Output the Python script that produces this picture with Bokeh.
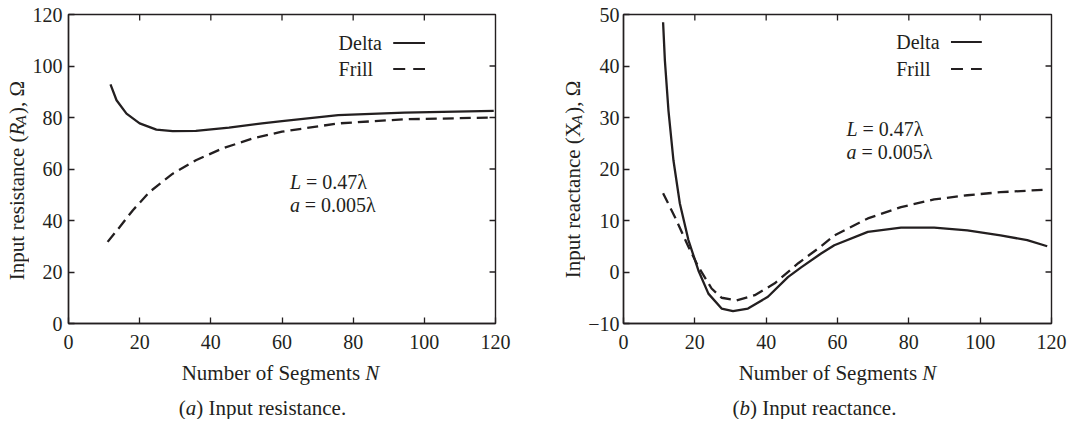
import math
from bokeh.plotting import figure
from bokeh.models import Range1d, Label, Arrow
from bokeh.layouts import row, column
from bokeh.embed import file_html
from bokeh.resources import INLINE

# ---------------- data ----------------
x_ticks = [0, 20, 40, 60, 80, 100, 120]
ra_ticks = [0, 20, 40, 60, 80, 100, 120]
xa_ticks = [-10, 0, 10, 20, 30, 40, 50]

ra_delta_n = [11.8, 13.5, 16.3, 20.0, 24.7, 29.3, 35.8, 45.1, 54.4, 60.0, 75.8, 94.4, 119.5]
ra_delta_v = [92.9, 86.7, 81.5, 77.7, 75.3, 74.7, 74.8, 76.1, 77.7, 78.6, 80.9, 81.9, 82.6]

ra_frill_n = [11.0, 14.4, 18.1, 22.8, 29.3, 35.8, 43.3, 51.6, 60.0, 75.8, 94.4, 119.5]
ra_frill_v = [31.7, 37.5, 44.0, 51.1, 58.2, 63.4, 68.0, 71.8, 74.5, 77.7, 79.3, 80.0]

xa_delta_n = [11.1, 11.6, 12.6, 14.0, 15.8, 18.2, 21.0, 23.8, 27.5, 30.7, 34.9, 40.5,
              46.1, 49.8, 55.4, 59.1, 68.5, 77.8, 87.1, 96.4, 105.7, 113.2, 118.8]
xa_delta_v = [48.5, 41.1, 31.4, 21.7, 13.3, 6.2, 0.3, -4.2, -7.1, -7.6, -7.1, -4.8,
              -1.0, 0.9, 3.6, 5.2, 7.8, 8.6, 8.6, 8.1, 7.1, 6.2, 5.0]

xa_frill_n = [11.1, 14.4, 18.2, 21.0, 24.7, 27.5, 31.7, 36.8, 42.4, 49.0, 55.4, 59.1,
              68.5, 77.8, 87.1, 96.4, 105.7, 118.8]
xa_frill_v = [15.3, 10.7, 4.9, 1.0, -3.2, -5.0, -5.5, -4.5, -2.2, 1.7, 5.0, 7.1,
              10.4, 12.6, 14.1, 14.9, 15.5, 16.0]

series_names = ["Delta", "Frill"]

# ---------------- styling ----------------
FONT = "Liberation Serif"
INK = "#231f20"
TICK_SIZE = 20
LABEL_SIZE = 21
YLAB_SIZE = 21
PANEL_H = 360                    # page y 0 .. 360
FRAME_TOP, FRAME_BOTTOM = 14, 323

# Times / Liberation Serif advance widths (per 1000 em)
W_REG = {' ': 250, '(': 333, ')': 333, ',': 250, '.': 250, 'I': 333, 'n': 500, 'p': 500,
         'u': 500, 't': 278, 'r': 333, 'e': 444, 's': 389, 'i': 278, 'a': 444, 'c': 444,
         'Ω': 768, 'X': 722, '=': 564, 'N': 722, 'm': 778, 'b': 500, 'o': 500, 'f': 333,
         'S': 556, 'g': 500, 'D': 722, 'l': 278, 'F': 556, 'λ': 549}
W_IT = {'R': 611, 'A': 611, 'a': 500, 'b': 500, 'L': 556, 'N': 667, 'X': 611}


def tw(s, size, italic=False):
    tab = W_IT if italic else W_REG
    return sum(tab.get(c, 500) for c in s) * size / 1000.0


def make_panel(width, border_left, border_right, xr, yr, yticks, ystandoff, overrides=None):
    p = figure(width=width, height=PANEL_H, output_backend="svg", toolbar_location=None,
               x_range=Range1d(*xr), y_range=Range1d(*yr),
               min_border_left=border_left, min_border_right=border_right,
               min_border_top=FRAME_TOP, min_border_bottom=PANEL_H - FRAME_BOTTOM)
    p.background_fill_color = "white"
    p.border_fill_color = "white"
    p.outline_line_color = INK
    p.outline_line_width = 1.4
    p.grid.visible = False
    for ax in (p.xaxis[0], p.yaxis[0]):
        ax.axis_line_color = INK
        ax.axis_line_width = 1.4
        ax.major_tick_in = 6
        ax.major_tick_out = 0
        ax.major_tick_line_color = INK
        ax.major_tick_line_width = 1.3
        ax.minor_tick_line_color = None
        ax.major_label_text_font = FONT
        ax.major_label_text_font_size = f"{TICK_SIZE}px"
        ax.major_label_text_color = INK
    p.xaxis.ticker = x_ticks
    p.yaxis.ticker = yticks
    p.xaxis.major_label_standoff = 11
    p.yaxis.major_label_standoff = ystandoff
    if overrides:
        p.yaxis.major_label_overrides = overrides
    # mirrored inward ticks on the top and right edges of the frame
    dy = 6 * (yr[1] - yr[0]) / (FRAME_BOTTOM - FRAME_TOP)
    dx = 6 * (xr[1] - xr[0]) / 430.0
    for t in x_ticks[1:-1]:
        p.add_layout(Arrow(x_start=t, y_start=yr[1], x_end=t, y_end=yr[1] - dy, end=None,
                           line_color=INK, line_width=1.3))
    for t in yticks[1:-1]:
        p.add_layout(Arrow(x_start=xr[1], y_start=t, x_end=xr[1] - dx, y_end=t, end=None,
                           line_color=INK, line_width=1.3))
    return p


def make_text_fig(width, height, x0, y0):
    # a bare canvas whose data units equal page pixels (y grows downward)
    p = figure(width=width, height=height, output_backend="svg", toolbar_location=None,
               x_range=Range1d(x0, x0 + width), y_range=Range1d(y0 + height, y0),
               x_axis_location=None, y_axis_location=None, min_border=0,
               min_border_left=0, min_border_right=0, min_border_top=0, min_border_bottom=0)
    p.outline_line_color = None
    p.grid.visible = False
    p.background_fill_color = "white"
    p.border_fill_color = "white"
    return p


def converter(fx0, fx1, xr, yr):
    def conv(px, py):
        x = xr[0] + (px - fx0) / (fx1 - fx0) * (xr[1] - xr[0])
        y = yr[0] + (FRAME_BOTTOM - py) / (FRAME_BOTTOM - FRAME_TOP) * (yr[1] - yr[0])
        return x, y
    return conv


def page(px, py):
    return px, py


def add_text(p, conv, px, py, text, size, italic=False, angle=0.0, align="left"):
    x, y = conv(px, py)
    p.add_layout(Label(x=x, y=y, text=text, text_font=FONT, text_font_size=f"{size}px",
                       text_font_style="italic" if italic else "normal",
                       text_color=INK, text_align=align, text_baseline="middle",
                       angle=angle))


def add_rich(p, conv, px_start, py, pieces, center=False):
    # pieces: (text, size, italic, offset across the line, gap after)
    total = sum(tw(t, s, it) + g for t, s, it, d, g in pieces)
    cur = px_start - total / 2.0 if center else px_start
    for t, s, it, d, g in pieces:
        add_text(p, conv, cur, py + d, t, s, it)
        cur += tw(t, s, it) + g


def add_ylabel(p, px, py_center, main, sym, sym_italic, tail):
    # rotated label reading bottom-to-top: main text ends where the symbol begins
    w_main = tw(main, YLAB_SIZE)
    w_sym = tw(sym, YLAB_SIZE, sym_italic)
    w_sub = tw("A", 15, True)
    gap = 3
    w_tail = tw(tail, YLAB_SIZE)
    total = w_main + w_sym + w_sub + gap + w_tail
    P = py_center + total / 2.0 - w_main
    add_text(p, page, px, P, main, YLAB_SIZE, False, math.pi / 2, "right")
    add_text(p, page, px, P, sym, YLAB_SIZE, sym_italic, math.pi / 2, "left")
    add_text(p, page, px + 4, P - w_sym, "A", 15, True, math.pi / 2, "left")
    add_text(p, page, px, P - w_sym - w_sub - gap, tail, YLAB_SIZE, False, math.pi / 2, "left")


def add_legend(p, conv, px_text, px_l0, px_l1, py_rows):
    for name, py, dash in zip(series_names, py_rows, ["solid", "12 8"]):
        add_text(p, conv, px_text, py, name, TICK_SIZE)
        x0, y0 = conv(px_l0, py + 0.5)
        x1, y1 = conv(px_l1, py + 0.5)
        p.add_layout(Arrow(x_start=x0, y_start=y0, x_end=x1, y_end=y1, end=None,
                           line_color=INK, line_width=2.0, line_dash=dash))


def add_params(p, conv, px, py):
    sp = tw(" ", TICK_SIZE)
    add_rich(p, conv, px, py, [("L", TICK_SIZE, True, 0, sp), ("= 0.47λ", TICK_SIZE, False, 0, 0)])
    add_rich(p, conv, px, py + 23, [("a", TICK_SIZE, True, 0, sp), ("= 0.005λ", TICK_SIZE, False, 0, 0)])


xr = (0, 120)
sp_l = tw(" ", LABEL_SIZE)

# ---------------- panel (a) ----------------
yr_a = (0, 120)
ya = make_text_fig(29, PANEL_H, 0, 0)
add_ylabel(ya, 16.5, 184, "Input resistance (", "R", True, "), Ω")

pa = make_panel(531, 36, 65, xr, yr_a, ra_ticks, 6)
ca = converter(65, 495, xr, yr_a)
pa.line(ra_delta_n, ra_delta_v, line_color=INK, line_width=2.3)
pa.line(ra_frill_n, ra_frill_v, line_color=INK, line_width=2.3, line_dash="11 6")
add_legend(pa, ca, 337, 392, 424, [42, 68])
add_params(pa, ca, 288, 181)

# ---------------- panel (b) ----------------
yr_b = (-10, 50)
yb = make_text_fig(25, PANEL_H, 560, 0)
add_ylabel(yb, 572.5, 183, "Input reactance (", "X", False, "), Ω")

pb = make_panel(483, 36, 17, xr, yr_b, xa_ticks, 4, overrides={-10: "−10"})
cb = converter(621, 1051, xr, yr_b)
pb.line(xa_delta_n, xa_delta_v, line_color=INK, line_width=2.3)
pb.line(xa_frill_n, xa_frill_v, line_color=INK, line_width=2.3, line_dash="11 6")
add_legend(pb, cb, 895, 950, 981, [41, 68])
add_params(pb, cb, 845, 128)

# ---------------- axis titles and captions ----------------
tb = make_text_fig(1068, 59, 0, PANEL_H)
for cx in (280, 837):
    add_rich(tb, page, cx, 372, [("Number of Segments", LABEL_SIZE, False, 0, sp_l),
                                 ("N", LABEL_SIZE, True, 0, 0)], center=True)
for cx, letter, cap in [(262, "a", "Input resistance."), (814, "b", "Input reactance.")]:
    add_rich(tb, page, cx, 407, [("(", LABEL_SIZE, False, 0, 0), (letter, LABEL_SIZE, True, 0, 0),
                                 (")", LABEL_SIZE, False, 0, sp_l),
                                 (cap, LABEL_SIZE, False, 0, 0)], center=True)

layout = column(row(ya, pa, yb, pb), tb)
open("out.html", "w").write(file_html(layout, INLINE))
